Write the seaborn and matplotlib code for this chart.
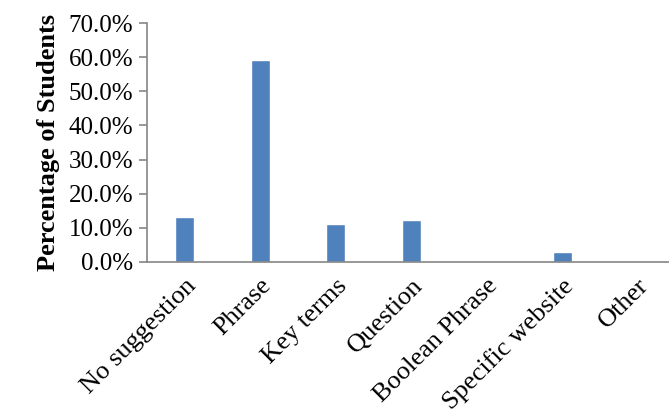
import matplotlib
matplotlib.use("Agg")
import matplotlib.pyplot as plt
from matplotlib import font_manager as fm
from matplotlib.ticker import PercentFormatter, MultipleLocator
import seaborn as sns
import pandas as pd

categories = ["No suggestion", "Phrase", "Key terms", "Question",
              "Boolean Phrase", "Specific website", "Other"]
percentages = [13.2, 59.1, 11.1, 12.3, 0.0, 2.9, 0.15]

df = pd.DataFrame({"category": categories, "pct": percentages})

sns.set_theme(style="white")

# Times-like serif face
installed = {f.name for f in fm.fontManager.ttflist}
serif = next((n for n in ("Times New Roman", "Liberation Serif", "Tinos",
                          "Nimbus Roman", "DejaVu Serif") if n in installed),
             "DejaVu Serif")
plt.rcParams["font.family"] = [serif, "DejaVu Serif"]
plt.rcParams.update({"text.color": "black", "axes.labelcolor": "black",
                     "xtick.labelcolor": "black", "ytick.labelcolor": "black"})

W, H = 669, 419
top_px, base_px, left_px = 23, 262, 147
fig = plt.figure(figsize=(W / 100, H / 100), dpi=100)
ax = fig.add_axes([left_px / W, (H - base_px) / H,
                   (W - left_px) / W, (base_px - top_px) / H])

sns.barplot(data=df, x="category", y="pct", color="#4F81BD",
            saturation=1, width=0.25, ax=ax)

ax.set_ylim(0, 70)
ax.set_xlim(-0.5, -0.5 + (W - left_px) / 75.5)
ax.yaxis.set_major_locator(MultipleLocator(10))
ax.yaxis.set_major_formatter(PercentFormatter(decimals=1))

ax.set_xlabel("")
ax.set_ylabel("Percentage of Students", fontsize=19, fontweight="bold",
              labelpad=6, color="black")

for side in ("top", "right"):
    ax.spines[side].set_visible(False)
for side in ("left", "bottom"):
    ax.spines[side].set_color("#868686")
    ax.spines[side].set_linewidth(1.2)

ax.tick_params(axis="y", which="major", left=True, length=6, width=1.2,
               color="#868686", labelcolor="black", labelsize=18, pad=4)
ax.tick_params(axis="x", bottom=False, labelcolor="black", labelsize=19, pad=3)
plt.setp(ax.get_xticklabels(), rotation=45, ha="right", va="top",
         rotation_mode="anchor")

fig.savefig("out.png", dpi=100)
